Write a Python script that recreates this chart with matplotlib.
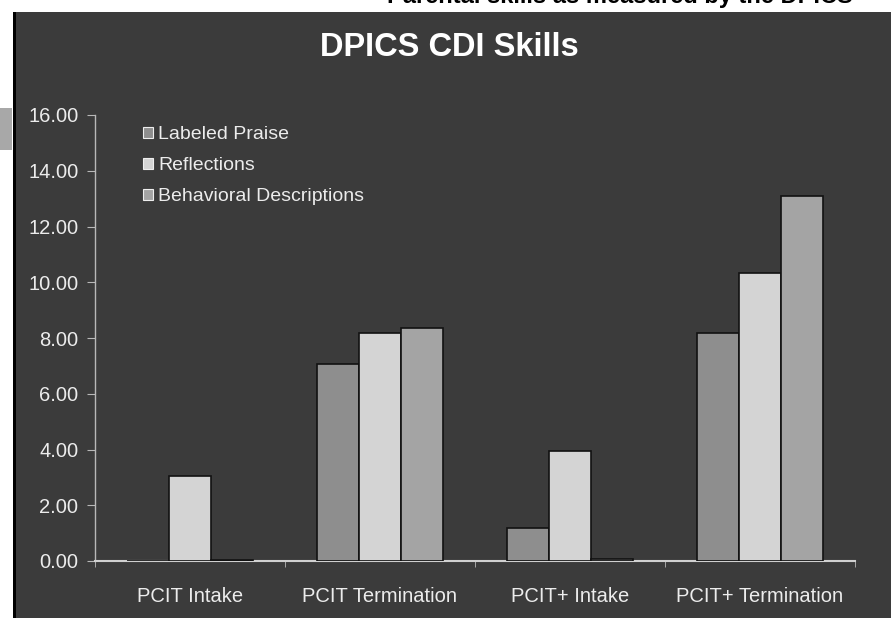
import numpy as np
import matplotlib
matplotlib.use('Agg')
import matplotlib.pyplot as plt
from matplotlib.patches import Rectangle

plt.rcParams['font.family'] = ['Liberation Sans', 'DejaVu Sans']

categories = ['PCIT Intake', 'PCIT Termination', 'PCIT+ Intake', 'PCIT+ Termination']
series = ['Labeled Praise', 'Reflections', 'Behavioral Descriptions']
labeled_praise = [0.0, 7.05, 1.18, 8.17]
reflections = [3.05, 8.17, 3.94, 10.32]
behavioral_desc = [0.05, 8.35, 0.06, 13.08]
y_ticks = [0, 2, 4, 6, 8, 10, 12, 14, 16]

bar_colors = ['#8e8e8e', '#d4d4d4', '#a4a4a4']
panel = '#3b3b3b'
txt = '#ececec'

W, H = 891, 618
fig = plt.figure(figsize=(W / 100, H / 100), dpi=100)
fig.patch.set_facecolor('white')

# dark slide panel
fig.patches.append(Rectangle((14 / W, 0), 1 - 14 / W, 1 - 12 / H,
                             transform=fig.transFigure, facecolor=panel,
                             edgecolor='none', zorder=-2))
fig.patches.append(Rectangle((13 / W, 0), 3 / W, 1 - 12 / H,
                             transform=fig.transFigure, facecolor='black',
                             edgecolor='none', zorder=-1))
# grey scrap on the left edge of the scan
fig.patches.append(Rectangle((0, 1 - 150 / H), 12 / W, 42 / H,
                             transform=fig.transFigure, facecolor='#a8a8a8',
                             edgecolor='none', zorder=-1))

# heading cut off by the scan
fig.text(620 / W, 1 + 4 / H, 'Parental skills as measured by the DPICS',
         ha='center', va='center', fontsize=17, fontweight='bold', color='black')
fig.text(449 / W, 1 - 47 / H, 'DPICS CDI Skills', ha='center', va='center',
         fontsize=23.5, fontweight='bold', color='white')

ax = fig.add_axes([95 / W, 1 - 561 / H, 760 / W, 446 / H])
ax.set_facecolor('none')
ax.set_zorder(2)

x = np.arange(len(categories))
bw = 0.22
for i, (vals, name) in enumerate(zip([labeled_praise, reflections, behavioral_desc], series)):
    ax.bar(x + (i - 1) * bw, vals, width=bw, color=bar_colors[i],
           edgecolor='#111111', linewidth=1.2, label=name, zorder=3)

ax.set_xlim(-0.5, len(categories) - 0.5)
ax.set_ylim(0, 16)
ax.set_yticks(y_ticks)
ax.set_yticklabels(['%.2f' % v for v in y_ticks])
ax.set_xticks(x)
ax.set_xticklabels(categories)
ax.set_xticks(np.arange(len(categories) + 1) - 0.5, minor=True)

for s in ['top', 'right']:
    ax.spines[s].set_visible(False)
ax.spines['left'].set_color('#b8b8b8')
ax.spines['bottom'].set_color('#d0d0d0')
ax.spines['left'].set_linewidth(1.0)
ax.spines['bottom'].set_linewidth(1.5)

fs = 14.5
ax.tick_params(axis='y', colors='#b8b8b8', labelcolor=txt, labelsize=fs,
               length=6, direction='out', pad=6)
ax.tick_params(axis='x', which='major', length=0, labelcolor=txt,
               labelsize=fs, pad=19)
ax.tick_params(axis='x', which='minor', length=4, colors='#b8b8b8', direction='out')

leg = ax.legend(loc='upper left', bbox_to_anchor=(0.045, 1.005), frameon=False,
                fontsize=14, handlelength=0.5, handleheight=0.5,
                handletextpad=0.3, labelspacing=0.72, borderaxespad=0.3)
for t in leg.get_texts():
    t.set_color(txt)
for h in leg.legend_handles:
    h.set_edgecolor('#eeeeee')
    h.set_linewidth(0.8)

fig.savefig('out.png', dpi=100, facecolor=fig.get_facecolor())
